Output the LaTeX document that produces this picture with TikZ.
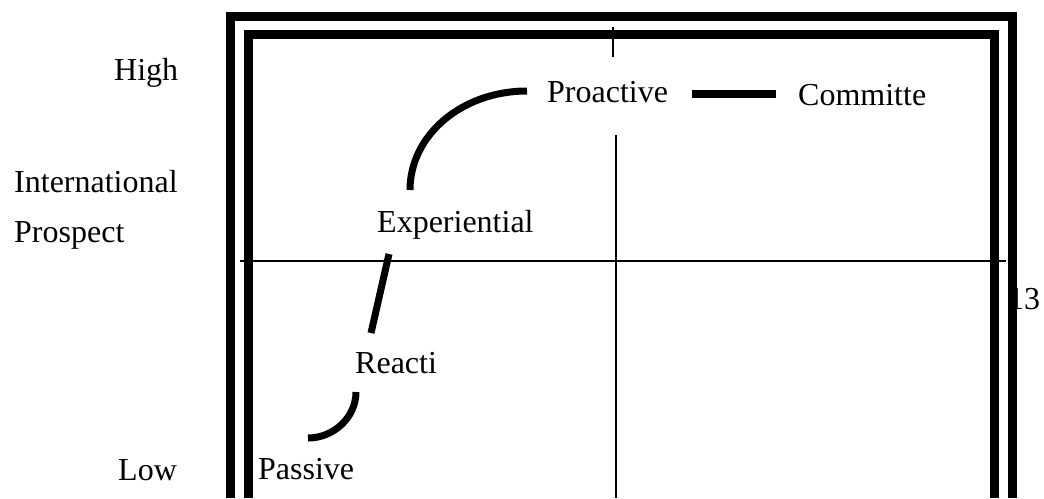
\documentclass[tikz,border=0pt]{standalone}
\usepackage{fontspec}
\setmainfont{Liberation Serif}
\begin{document}
\begin{tikzpicture}[x=1pt, y=-1pt,
	every node/.style={font=\fontsize{32}{38}\selectfont, inner sep=0pt, anchor=base west},
	frame/.style={line width=9pt, line join=miter},
	stage/.style={line width=7pt},
	axis/.style={line width=1.3pt}]
	\useasboundingbox (0, 0) rectangle (1044, 498);
	\node (page) at (1008, 309) {13};
	\draw[frame] (230.5, 498) -- (230.5, 16.5) -- (1012.5, 16.5) -- (1012.5, 498);
	\draw[frame] (248, 498) -- (248, 34.5) -- (994.5, 34.5) -- (994.5, 498);
	\draw[axis] (240, 261) -- (1006, 261);
	\draw[axis] (613, 27) -- (613, 57);
	\draw[axis] (616, 135) -- (616, 498);
	\node (high) at (114, 80) {High};
	\node (intl) at (14, 192) {International};
	\node (prosp) at (14, 242) {Prospect};
	\node (low) at (118, 480) {Low};
	\node (passive) at (258, 479) {Passive};
	\node (reacti) at (355, 373) {Reacti};
	\node (exper) at (377, 232) {Experiential};
	\node (proact) at (547, 102) {Proactive};
	\node (commit) at (798, 105) {Committe};
	\coordinate (pas-end) at (308, 438);
	\coordinate (rea-low) at (356, 392);
	\coordinate (rea-top) at (371, 333);
	\coordinate (exp-low) at (389, 254);
	\coordinate (exp-top) at (410, 190);
	\coordinate (pro-west) at (527, 91);
	\coordinate (pro-east) at (692, 94);
	\coordinate (com-west) at (776, 94);
	\draw[stage] (rea-low) .. controls (356, 417) and (334, 438) .. (pas-end);
	\draw[stage] (rea-top) -- (exp-low);
	\draw[stage] (exp-top) .. controls (410, 135) and (462, 91) .. (pro-west);
	\draw[stage, line width=8pt] (pro-east) -- (com-west);
\end{tikzpicture}
\end{document}
